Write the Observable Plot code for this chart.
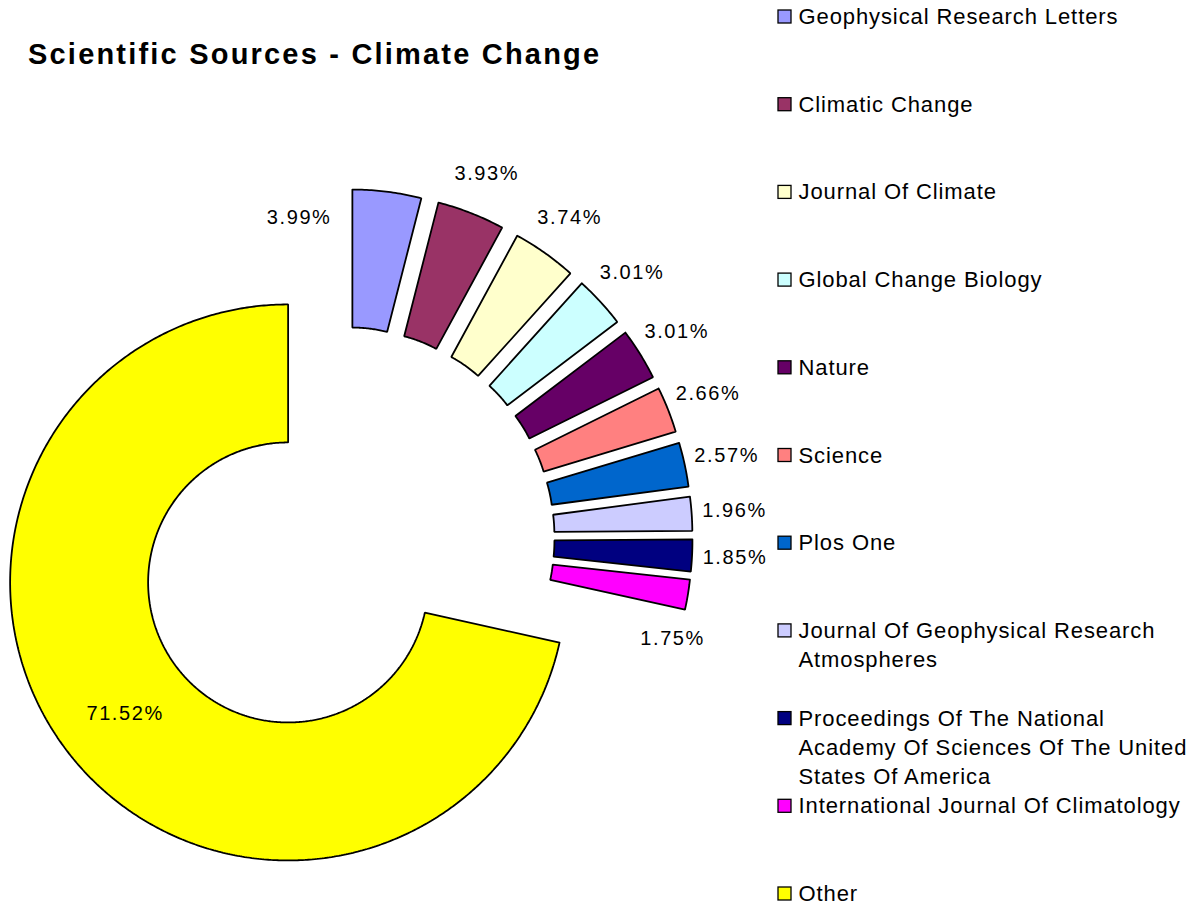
<!DOCTYPE html>
<html>
<head>
<meta charset="utf-8">
<script src="https://cdn.jsdelivr.net/npm/d3@7"></script>
<script src="https://cdn.jsdelivr.net/npm/@observablehq/plot@0.6"></script>
<style>
  html, body { margin: 0; padding: 0; background: #fff; overflow: hidden; }
  #wrap { position: relative; width: 1192px; height: 906px; }
  #title {
    position: absolute; left: 28px; top: 40px; margin: 0;
    font: bold 29px "Liberation Sans", Arial, sans-serif;
    line-height: 29px; letter-spacing: 2.2px; color: #000; white-space: nowrap;
  }
  #chart { position: absolute; left: 0; top: 0; }
</style>
</head>
<body>
<div id="wrap">
  <div id="chart"></div>
  <h1 id="title">Scientific Sources - Climate Change</h1>
</div>
<script>
// ---------- data ----------
const sources = [
  "Geophysical Research Letters",
  "Climatic Change",
  "Journal Of Climate",
  "Global Change Biology",
  "Nature",
  "Science",
  "Plos One",
  "Journal Of Geophysical Research Atmospheres",
  "Proceedings Of The National Academy Of Sciences Of The United States Of America",
  "International Journal Of Climatology",
  "Other"
];
const shares = [3.99, 3.93, 3.74, 3.01, 3.01, 2.66, 2.57, 1.96, 1.85, 1.75, 71.52];
const colors = ["#9999FF", "#993366", "#FFFFCC", "#CCFFFF", "#660066", "#FF8080",
                "#0066CC", "#CCCCFF", "#000080", "#FF00FF", "#FFFF00"];
const legendLines = [
  ["Geophysical Research Letters"],
  ["Climatic Change"],
  ["Journal Of Climate"],
  ["Global Change Biology"],
  ["Nature"],
  ["Science"],
  ["Plos One"],
  ["Journal Of Geophysical Research", "Atmospheres"],
  ["Proceedings Of The National", "Academy Of Sciences Of The United", "States Of America"],
  ["International Journal Of Climatology"],
  ["Other"]
];

// ---------- layout (pixels in plot units) ----------
const W = 1192, H = 906;
const C = {x: 343, y: 537.5};   // doughnut centre before explosion
const explode = 71;              // explosion distance
const R = 278, r0 = 140;         // outer / inner radius
const labelGap = 43;
const labelOverride = {          // collision-avoided labels (angle in deg, radius)
  "Geophysical Research Letters": {angle: -12, radius: 256},
  "International Journal Of Climatology": {angle: 109, radius: 274}
};
const legend = {x: 778, size: 13, textX: 798, top: 16.5, step: 87.7, lineH: 29.3};

// ---------- geometry ----------
const rad = d => d * Math.PI / 180;
const pt = (cx, cy, rr, deg) => [cx + rr * Math.sin(rad(deg)), cy - rr * Math.cos(rad(deg))];
const total = d3.sum(shares);
let acc = 0;
const slices = sources.map((name, i) => {
  const a0 = acc / total * 360; acc += shares[i];
  const a1 = acc / total * 360;
  const mid = (a0 + a1) / 2;
  const [cx, cy] = pt(C.x, C.y, explode, mid);
  return {name, value: shares[i], a0, a1, mid, cx, cy};
});

const ringPts = [];
for (const s of slices) {
  const n = Math.max(4, Math.ceil((s.a1 - s.a0) / 0.5));
  const pts = [];
  for (let k = 0; k <= n; k++) pts.push(pt(s.cx, s.cy, R, s.a0 + (s.a1 - s.a0) * k / n));
  for (let k = n; k >= 0; k--) pts.push(pt(s.cx, s.cy, r0, s.a0 + (s.a1 - s.a0) * k / n));
  pts.push(pts[0]);
  for (const [x, y] of pts) ringPts.push({name: s.name, x, y});
}

const fmt = d3.format(".2f");
const labels = slices.map(s => {
  let ang = s.mid, rr = R + labelGap;
  if (s.name === "Other") rr = (R + r0) / 2;
  if (labelOverride[s.name]) { ang = labelOverride[s.name].angle; rr = labelOverride[s.name].radius; }
  const [x, y] = pt(s.cx, s.cy, rr, ang);
  return {x, y, text: fmt(s.value) + "%"};
});

const legendBoxes = sources.map((name, i) => {
  const yc = legend.top + legend.step * i;
  return {name, x1: legend.x, x2: legend.x + legend.size, y1: yc - legend.size / 2, y2: yc + legend.size / 2};
});
const legendText = [];
legendLines.forEach((lines, i) => lines.forEach((t, j) =>
  legendText.push({text: t, x: legend.textX, y: legend.top + legend.step * i + j * legend.lineH})));

const chart = Plot.plot({
  width: W, height: H, margin: 0,
  style: {fontFamily: '"Liberation Sans", Arial, sans-serif', background: "#fff"},
  x: {domain: [0, W], range: [0, W], axis: null},
  y: {domain: [0, H], range: [0, H], axis: null},
  color: {domain: sources, range: colors},
  marks: [
    Plot.line(ringPts, {x: "x", y: "y", z: "name", fill: "name", stroke: "#000", strokeWidth: 1.8, strokeLinejoin: "miter"}),
    Plot.text(labels, {x: "x", y: "y", text: "text", fontSize: 20, fill: "#000"}),
    Plot.rect(legendBoxes, {x1: "x1", x2: "x2", y1: "y1", y2: "y2", fill: "name", stroke: "#000", strokeWidth: 1.3}),
    Plot.text(legendText, {x: "x", y: "y", text: "text", textAnchor: "start", fontSize: 22, fill: "#000"})
  ]
});
// letter spacing to mimic the wider original text rendering
const textGroups = chart.querySelectorAll('g[aria-label="text"]');
if (textGroups[0]) textGroups[0].style.letterSpacing = "1.6px";
if (textGroups[1]) textGroups[1].style.letterSpacing = "0.9px";
document.getElementById("chart").appendChild(chart);
</script>
</body>
</html>
